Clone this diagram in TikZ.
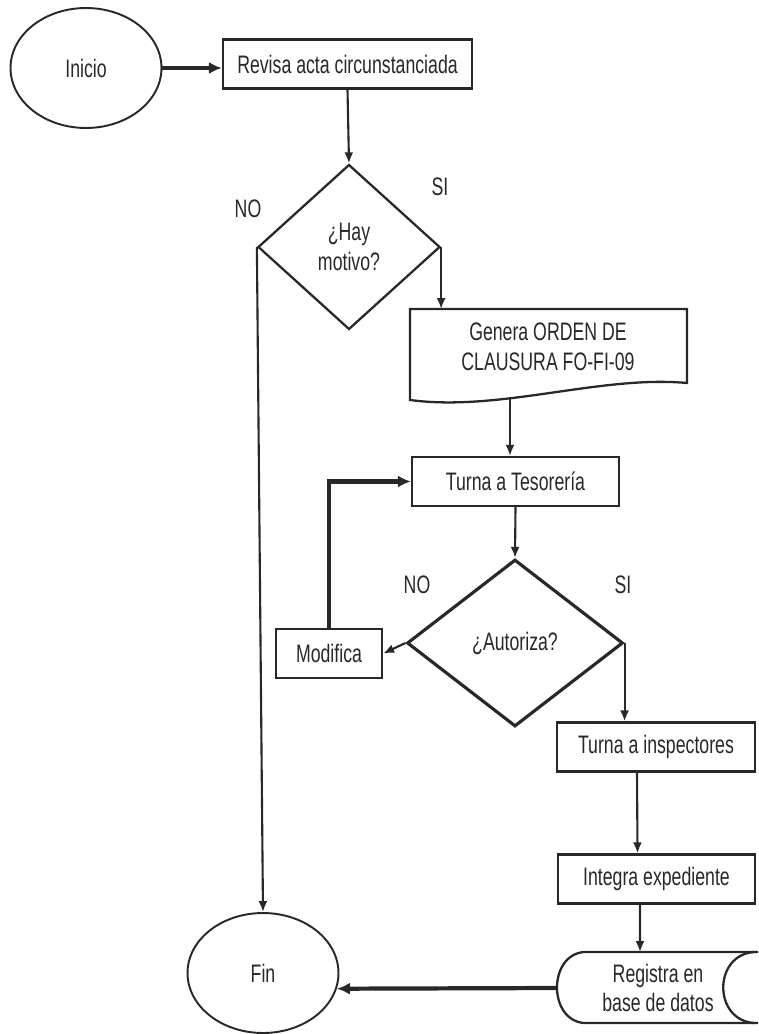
\documentclass[tikz,border=0pt]{standalone}
\usepackage{fontspec}
\setmainfont{Liberation Sans}[FakeStretch=0.70]
\usetikzlibrary{shapes.geometric,arrows.meta}
\definecolor{ink}{HTML}{282828}
\tikzset{
  txt/.style={text=ink,font=\fontsize{14.4}{17}\selectfont,align=center},
  box/.style={txt,draw=ink,line width=1.3pt,inner sep=0pt,minimum height=0.98cm},
  term/.style={txt,draw=ink,line width=1.1pt,ellipse,inner sep=0pt,minimum width=3.02cm,minimum height=2.4cm},
  decide/.style={txt,draw=ink,line width=1.3pt,diamond,inner sep=0pt},
  flow/.style={draw=ink,line width=1.2pt,-{Latex[length=2.2mm,width=1.8mm]}},
  bigflow/.style={draw=ink,line width=2.4pt,-{Latex[length=2.6mm,width=2.4mm]}},
}
\begin{document}
\begin{tikzpicture}[x=0.02cm,y=-0.02cm]
\useasboundingbox (0,0) rectangle (758,1034);
%
\node[term] (inicio) at (86,68) {Inicio};
\node[box,minimum width=4.98cm] (revisa) at (347.5,64) {Revisa acta circunstanciada};
\draw[bigflow] (inicio.east) -- (revisa.west |- inicio.east);
%
\node[decide,minimum width=3.64cm,minimum height=3.3cm] (hay) at (349,247) {¿Hay\\motivo?};
\draw[flow] (revisa.south) -- (hay.north);
\node[txt] (no1) at (248,209) {NO};
\node[txt] (si1) at (440,187) {SI};
%
\node[txt] (genera) at (548,347) {Genera ORDEN DE\\CLAUSURA FO-FI-09};
\draw[ink,line width=1.3pt] (410,309) -- (687,309) -- (687,383)
  .. controls (600,375) and (500,412) .. (410,400) -- cycle;
\coordinate (gen-in) at (440,309);
\coordinate (gen-out) at (510,397);
\draw[flow] (hay.east) -- (hay.east |- gen-in);
%
\node[box,minimum width=4.14cm] (teso) at (515.5,481.5) {Turna a Tesorería};
\draw[flow] (gen-out) -- (gen-out |- teso.north);
%
\node[decide,line width=1.8pt,minimum width=4.32cm,minimum height=3.34cm] (autoriza) at (515,643) {¿Autoriza?};
\draw[flow] (teso.south) -- (autoriza.north);
\node[txt] (no2) at (417,585) {NO};
\node[txt] (si2) at (623,585) {SI};
%
\node[box,minimum width=2.12cm] (modifica) at (329,653.5) {Modifica};
\draw[flow] (autoriza.west) -- (modifica.east);
\draw[bigflow] (modifica.north) |- (teso.west);
%
\node[box,minimum width=3.96cm] (insp) at (656,747) {Turna a inspectores};
\draw[flow] (autoriza.east) -- (autoriza.east |- insp.north);
%
\node[box,minimum width=3.94cm] (integra) at (656.5,879) {Integra expediente};
\draw[flow] ([xshift=-0.38cm]insp.south) -- ([xshift=-0.38cm]integra.north);
%
\node[txt] (registra) at (658,988) {Registra en\\base de datos};
\draw[ink,line width=1.3pt] (758,952) -- (584,952)
  .. controls (548,955) and (548,1020) .. (584,1023) -- (758,1023);
\draw[ink,line width=1.3pt] (754,952) .. controls (713,955) and (713,1020) .. (754,1023);
\coordinate (reg-in) at (640,952);
\coordinate (reg-out) at (557,988);
\draw[flow] ([xshift=-0.33cm]integra.south) -- (reg-in);
%
\node[term] (fin) at (263,973) {Fin};
\draw[flow] (hay.west) -- (fin.north);
\draw[bigflow] (reg-out) -- (fin.-12);
\end{tikzpicture}
\end{document}
